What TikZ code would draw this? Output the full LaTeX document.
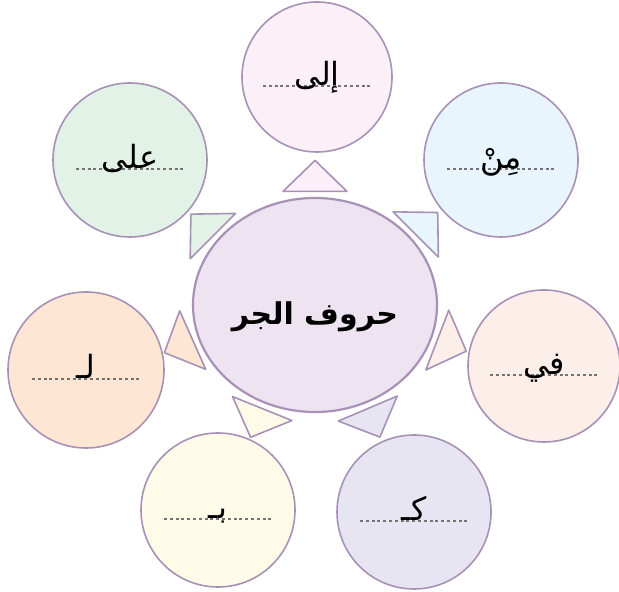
\documentclass[tikz,border=0pt]{standalone}
\usepackage{fontspec}
\usepackage{tikz}
\usetikzlibrary{shapes.geometric}
\newfontfamily\arabicfont[Script=Arabic]{DejaVu Sans}
\TeXXeTstate=1
\definecolor{edge}{HTML}{A891B6}
\definecolor{cmid}{HTML}{EEE3F1}
\definecolor{cila}{HTML}{FBF0F8}
\definecolor{cmin}{HTML}{E9F5FC}
\definecolor{cfi}{HTML}{FCEFEA}
\definecolor{cka}{HTML}{E8E5F3}
\definecolor{cbi}{HTML}{FEFCE9}
\definecolor{cli}{HTML}{FDE6D3}
\definecolor{cala}{HTML}{E2F2E6}

\begin{document}
\begin{tikzpicture}[x=0.5pt,y=0.5pt,
    ring/.style={circle,draw=edge,line width=0.8pt,inner sep=0pt},
    tri/.style={draw=edge,line width=0.8pt,line join=round},
    dots/.style={black!55,line width=1pt,dash pattern=on 1.5pt off 1.4pt},
    word/.style={inner sep=0pt,font=\arabicfont\fontsize{16}{18}\selectfont}]
        \fill[white] (0,0) rectangle (619,592);
        \useasboundingbox (0,0) rectangle (619,592);
        \node[ellipse,draw=edge,line width=1.1pt,fill=cmid,minimum width=122pt,minimum height=107pt] (harf) at (315,287) {};
        \node[font=\arabicfont\bfseries\fontsize{15}{18}\selectfont] (title) at (315,275) {\beginR حروف الجر\endR};
        \foreach \n/\cx/\cy/\r/\col/\w/\pa/\pb in {
            ila/317/515/75/cila/إلى/90/90, min/501/432/77/cmin/مِنْ/35/45,
            fi/544/226/76/cfi/في/-16/-21, ka/414/80/77/cka/كـ/-63/-67,
            bi/218/82/77/cbi/بـ/-117.5/-112, li/86/222/78/cli/لـ/196/204,
            ala/130/432/77/cala/على/146/135}{
            \node[ring,fill=\col,minimum size=\r pt] (\n) at (\cx,\cy) {};
            \draw[dots] ([xshift=-27pt,yshift=-4.5pt]\n.center) -- ([xshift=27pt,yshift=-4.5pt]\n.center);
            \node[word,anchor=base] (w\n) at ([yshift=-4.5pt]\n.center) {\beginR\w\endR};
            \path (harf.\pa) ++(\pa:5.5) coordinate (m\n);
            \draw[tri,fill=\col,shift={(m\n)},rotate=\pb] (0,-32) -- (31,0) -- (0,32) -- cycle;
        }
    \end{tikzpicture}
\end{document}
